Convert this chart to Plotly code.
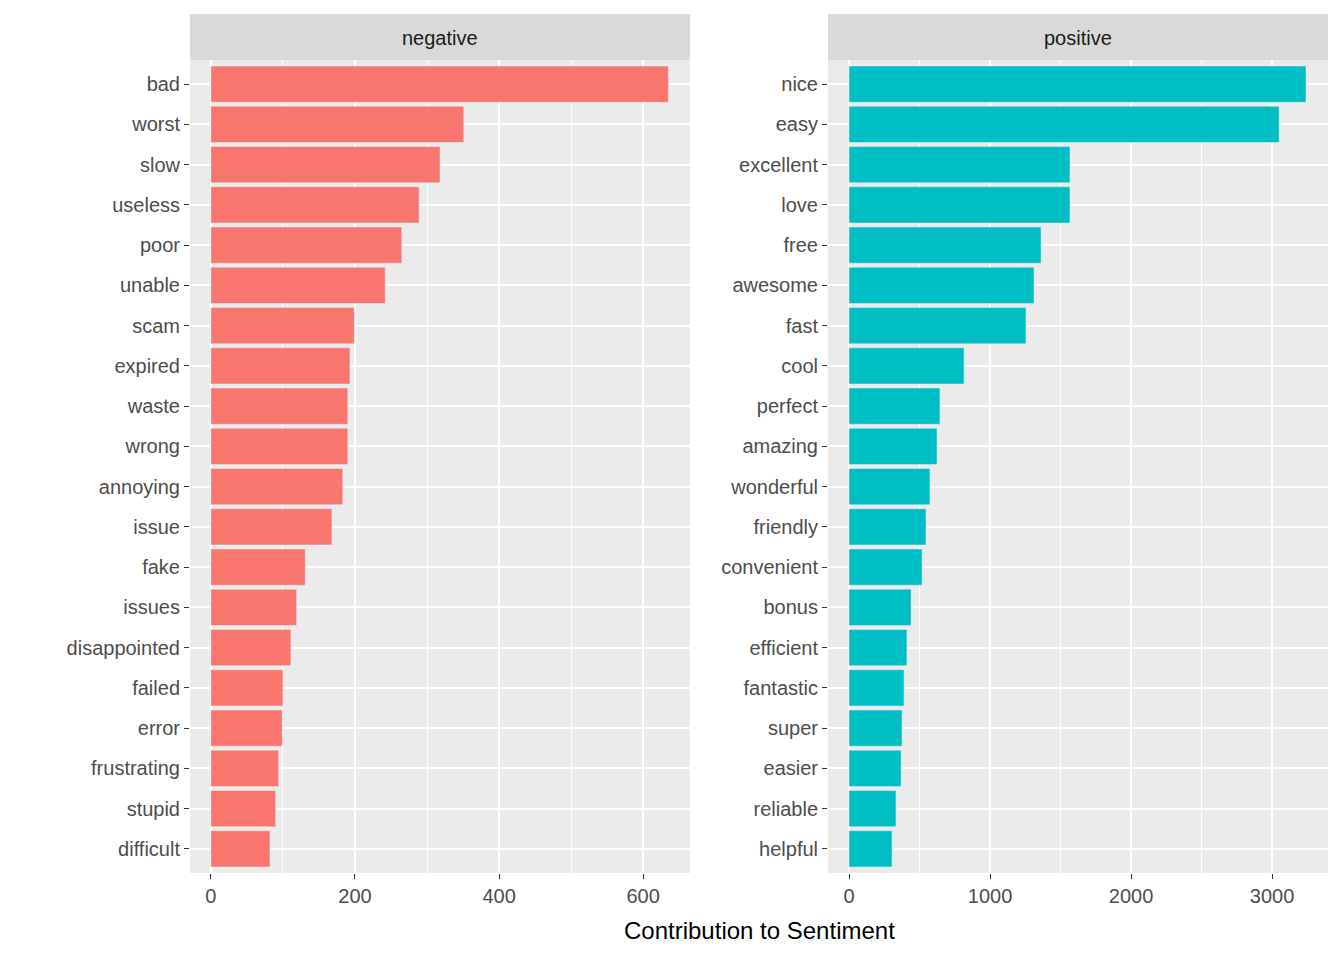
import plotly.graph_objects as go

neg_words = ["bad","worst","slow","useless","poor","unable","scam","expired","waste","wrong",
             "annoying","issue","fake","issues","disappointed","failed","error","frustrating","stupid","difficult"]
neg_vals = [635,351,318,289,265,242,199,193,190,190,183,168,131,119,111,100,99,94,90,82]
pos_words = ["nice","easy","excellent","love","free","awesome","fast","cool","perfect","amazing",
             "wonderful","friendly","convenient","bonus","efficient","fantastic","super","easier","reliable","helpful"]
pos_vals = [3241,3050,1567,1567,1362,1312,1255,816,645,624,574,546,518,440,411,390,376,369,333,305]

OFF = 8
W, H = 1344 - OFF, 960 - OFF
def px(p): return (p - OFF) / W
def py(p): return 1 - (p - OFF) / H

fig = go.Figure()
fig.add_bar(x=neg_vals[::-1], y=neg_words[::-1], orientation="h", marker_color="#F8766D",
            width=0.9, xaxis="x", yaxis="y", showlegend=False)
fig.add_bar(x=pos_vals[::-1], y=pos_words[::-1], orientation="h", marker_color="#00BFC4",
            width=0.9, xaxis="x2", yaxis="y2", showlegend=False)

ydom = [py(873), py(60)]
tickfont = dict(family="Liberation Sans, Arial", size=20, color="#4d4d4d")
common = dict(showgrid=True, gridcolor="white", gridwidth=1.5, ticks="outside", ticklen=5,
              tickcolor="#333333", tickfont=tickfont, zeroline=False, showline=False)
fig.update_layout(
    width=W, height=H, margin=dict(l=0, r=0, t=0, b=0),
    paper_bgcolor="white", plot_bgcolor="#EBEBEB", bargap=0.1,
    xaxis=dict(domain=[px(190), px(690)], range=[-29, 665], tickvals=[0, 200, 400, 600],
               minor=dict(tickvals=[100, 300, 500], showgrid=True, gridcolor="white", gridwidth=0.7, ticks=""),
               anchor="y", **common),
    xaxis2=dict(domain=[px(828), px(1328)], range=[-149, 3397], tickvals=[0, 1000, 2000, 3000],
                minor=dict(tickvals=[500, 1500, 2500], showgrid=True, gridcolor="white", gridwidth=0.7, ticks=""),
                anchor="y2", **common),
    yaxis=dict(domain=ydom, anchor="x", range=[-0.6, 19.6], **common),
    yaxis2=dict(domain=ydom, anchor="x2", range=[-0.6, 19.6], **common),
)
for x0, x1, label in [(190, 690, "negative"), (828, 1328, "positive")]:
    fig.add_shape(type="rect", xref="paper", yref="paper", x0=px(x0), x1=px(x1),
                  y0=py(60), y1=py(14), fillcolor="#D9D9D9", line_width=0)
    fig.add_annotation(text=label, xref="paper", yref="paper", x=px((x0 + x1) / 2), y=py(38),
                       xanchor="center", yanchor="middle",
                       showarrow=False, font=dict(family="Liberation Sans, Arial", size=20, color="#1a1a1a"))
fig.add_annotation(text="Contribution to Sentiment", xref="paper", yref="paper", x=px(759), y=py(930),
                   xanchor="center", yanchor="middle",
                   showarrow=False, font=dict(family="Liberation Sans, Arial", size=24, color="black"))
fig.write_html("out.html")
